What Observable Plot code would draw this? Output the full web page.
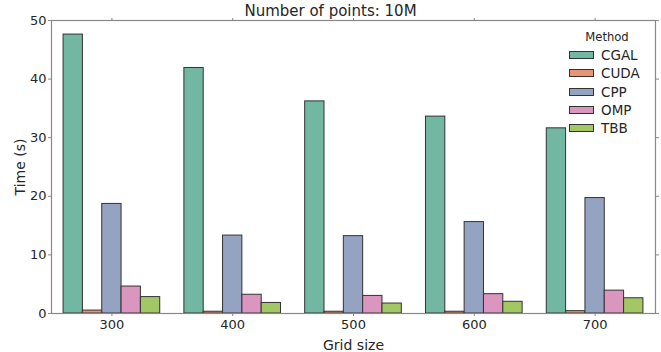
<!DOCTYPE html>
<html><head><meta charset="utf-8">
<script src="https://cdn.jsdelivr.net/npm/d3@7"></script>
<script src="https://cdn.jsdelivr.net/npm/@observablehq/plot@0.6"></script>
<style>
body{margin:0;background:#fff;font-family:"DejaVu Sans",sans-serif;}
#wrap{position:relative;width:661px;height:352px;}
#title{position:absolute;top:3px;left:0;width:661px;text-align:center;font-size:15px;color:#262626;line-height:17px;}
#legend{position:absolute;left:569px;top:29px;color:#262626;}
#legend .lt{font-size:11.6px;text-align:center;width:80px;margin-left:-2px;height:17px;line-height:17px;}
#legend .row{display:flex;align-items:center;height:18.3px;}
#legend .sw{width:23px;height:6px;border:1px solid #333;margin-right:7px;}
#legend .lab{font-size:13.5px;}
</style>
</head><body>
<div id="wrap">
  <div id="title"></div>
  <div id="chart"></div>
  <div id="legend"></div>
</div>
<script>
const titleText = "Number of points: 10M";
const grids = ["300", "400", "500", "600", "700"];
const methods = ["CGAL", "CUDA", "CPP", "OMP", "TBB"];
const colors = ["#71b7a1", "#e99575", "#95a3c3", "#db96c0", "#a2c764"];
const cgal = [47.6, 41.9, 36.2, 33.6, 31.6];
const cuda = [0.5, 0.3, 0.3, 0.3, 0.4];
const cpp  = [18.7, 13.3, 13.2, 15.6, 19.7];
const omp  = [4.6, 3.2, 3.0, 3.3, 3.9];
const tbb  = [2.8, 1.8, 1.7, 2.0, 2.6];
const yTicks = [0, 10, 20, 30, 40, 50];
const xLabel = "Grid size";
const yLabel = "Time (s)";
const legendTitle = "Method";

const series = [cgal, cuda, cpp, omp, tbb];
const rows = [];
grids.forEach((g, gi) => methods.forEach((m, mi) => rows.push({grid: g, gi, method: m, mi, value: series[mi][gi]})));
const groupWidth = 0.8;
const barW = groupWidth / methods.length;
const xIdx = grids.map((g, i) => i);

const chart = Plot.plot({
  width: 661, height: 352,
  marginLeft: 51, marginRight: 6, marginTop: 20, marginBottom: 39,
  style: {fontFamily: "DejaVu Sans", fontSize: "13px", color: "#262626", background: "#fff"},
  x: {domain: [-0.5, grids.length - 0.5]},
  y: {domain: [0, 50]},
  color: {domain: methods, range: colors},
  marks: [
    Plot.rectY(rows, {
      x1: d => d.gi - groupWidth / 2 + d.mi * barW,
      x2: d => d.gi - groupWidth / 2 + (d.mi + 1) * barW,
      y1: 0, y2: "value", fill: "method", stroke: "#333", strokeWidth: 1
    }),
    Plot.frame({stroke: "#888", strokeWidth: 1.2}),
    Plot.axisY({anchor: "left", ticks: [], label: yLabel, labelAnchor: "center", labelArrow: "none", labelOffset: 36, fontSize: 14}),
    Plot.axisY({anchor: "left", ticks: yTicks, tickSize: 3, tickPadding: 2, stroke: "#888", label: null, tickFormat: d => d}),
    Plot.axisY({anchor: "right", ticks: yTicks, tickSize: 3, stroke: "#888", tickFormat: () => "", label: null}),
    Plot.axisX({anchor: "top", ticks: xIdx, tickSize: 3, stroke: "#888", tickFormat: () => "", label: null}),
    Plot.axisX({anchor: "bottom", ticks: xIdx, tickSize: 3, tickPadding: 3, stroke: "#888", tickFormat: i => grids[i], label: null}),
    Plot.axisX({anchor: "bottom", ticks: [], label: xLabel, labelAnchor: "center", labelArrow: "none", labelOffset: 36, fontSize: 14})
  ]
});
document.getElementById("chart").appendChild(chart);
document.getElementById("title").textContent = titleText;

const leg = document.getElementById("legend");
const lt = document.createElement("div");
lt.className = "lt"; lt.textContent = legendTitle; leg.appendChild(lt);
methods.forEach((m, i) => {
  const r = document.createElement("div"); r.className = "row";
  const sw = document.createElement("div"); sw.className = "sw"; sw.style.background = colors[i];
  const lab = document.createElement("span"); lab.className = "lab"; lab.textContent = m;
  r.appendChild(sw); r.appendChild(lab); leg.appendChild(r);
});
</script>
</body></html>
